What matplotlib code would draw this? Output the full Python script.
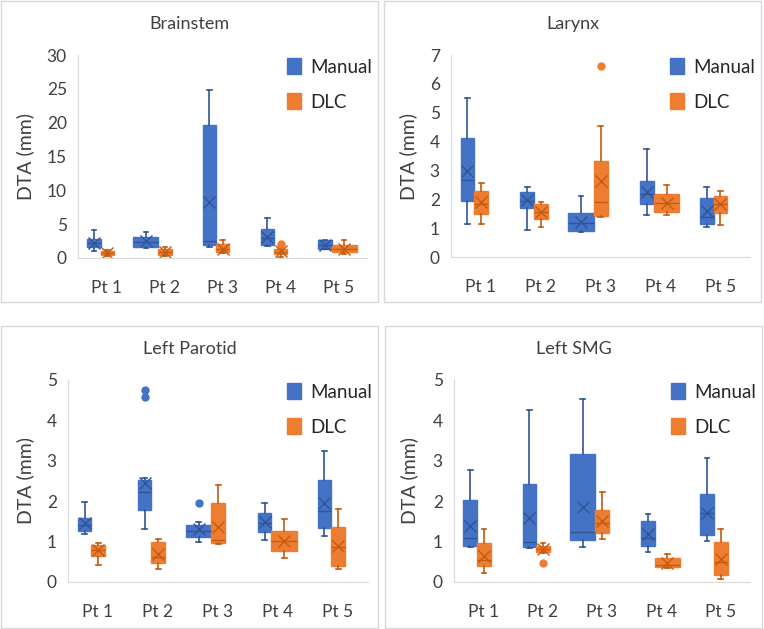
"""Box plots of DTA for manual vs DLC contours, four structures."""

import matplotlib.pyplot as plt
from matplotlib.patches import Patch, Rectangle

plt.rcParams["font.family"] = ["Lato", "DejaVu Sans"]

patients = ["Pt 1", "Pt 2", "Pt 3", "Pt 4", "Pt 5"]

# per patient: (whisker low, q1, median, q3, whisker high)
brain_manual = [(1.0, 1.63, 2.2, 2.87, 4.2), (1.5, 1.63, 2.4, 3.1, 3.85),
                (1.63, 1.88, 2.5, 19.7, 24.9), (1.73, 1.98, 3.0, 4.25, 5.97),
                (1.3, 1.38, 1.9, 2.6, 2.7)]
brain_dlc = [(0.3, 0.4, 0.7, 1.0, 1.2), (0.35, 0.5, 0.9, 1.4, 1.6),
             (0.8, 0.9, 1.3, 2.0, 2.7), (0.1, 0.6, 0.9, 1.3, 1.5),
             (0.65, 0.9, 1.4, 1.98, 2.6)]
brain_manual_mean = [2.2, 2.5, 8.3, 3.1, 1.9]
brain_dlc_mean = [0.7, 0.9, 1.4, 1.0, 1.4]
brain_manual_out = [[], [], [], [], []]
brain_dlc_out = [[], [], [], [2.0], []]

larynx_manual = [(1.14, 1.94, 2.66, 4.11, 5.5), (0.95, 1.7, 1.95, 2.26, 2.41),
                 (0.85, 0.89, 1.18, 1.51, 2.12), (1.45, 1.83, 2.2, 2.63, 3.74),
                 (1.04, 1.16, 1.39, 2.03, 2.43)]
larynx_dlc = [(1.14, 1.48, 1.85, 2.29, 2.57), (1.04, 1.3, 1.55, 1.82, 1.89),
              (1.38, 1.41, 1.91, 3.33, 4.54), (1.45, 1.56, 1.88, 2.2, 2.51),
              (1.1, 1.53, 1.85, 2.12, 2.29)]
larynx_manual_mean = [2.99, 1.97, 1.2, 2.26, 1.6]
larynx_dlc_mean = [1.91, 1.55, 2.64, 1.88, 1.85]
larynx_manual_out = [[], [], [], [], []]
larynx_dlc_out = [[], [], [6.63], [], []]

parotid_manual = [(1.2, 1.26, 1.4, 1.59, 1.97), (1.32, 1.78, 2.22, 2.52, 2.58),
                  (0.98, 1.12, 1.26, 1.42, 1.49), (1.03, 1.23, 1.45, 1.72, 1.95),
                  (1.14, 1.34, 1.75, 2.52, 3.25)]
parotid_dlc = [(0.41, 0.64, 0.78, 0.91, 0.97), (0.31, 0.46, 0.62, 0.98, 1.06),
               (0.95, 0.96, 1.05, 1.95, 2.4), (0.6, 0.77, 1.02, 1.27, 1.57),
               (0.33, 0.39, 0.87, 1.35, 1.8)]
parotid_manual_mean = [1.45, 2.45, 1.3, 1.49, 1.95]
parotid_dlc_mean = [0.78, 0.7, 1.37, 1.02, 0.9]
parotid_manual_out = [[], [4.57, 4.76], [1.95], [], []]
parotid_dlc_out = [[], [], [], [], []]

smg_manual = [(0.87, 0.89, 1.08, 2.03, 2.77), (0.83, 0.87, 0.99, 2.42, 4.26),
              (0.87, 1.03, 1.24, 3.16, 4.53), (0.74, 0.89, 1.1, 1.51, 1.68),
              (1.01, 1.16, 1.72, 2.17, 3.06)]
smg_dlc = [(0.23, 0.39, 0.54, 0.97, 1.32), (0.72, 0.74, 0.82, 0.89, 0.97),
           (1.06, 1.22, 1.45, 1.78, 2.22), (0.35, 0.36, 0.43, 0.6, 0.7),
           (0.08, 0.17, 0.5, 0.98, 1.3)]
smg_manual_mean = [1.39, 1.59, 1.86, 1.18, 1.72]
smg_dlc_mean = [0.64, 0.82, 1.51, 0.48, 0.57]
smg_manual_out = [[], [], [], [], []]
smg_dlc_out = [[], [0.47], [], [], []]

BLUE, BLUE_DK = "#4472C4", "#2F5597"
ORANGE, ORANGE_DK = "#ED7D31", "#C55A11"
GRID = "#d9d9d9"
TXT = "#404040"

W, H = 764, 629
fig = plt.figure(figsize=(W / 100, H / 100), dpi=100)


def stats(five, means, outs):
    out = []
    for (lo, q1, med, q3, hi), m, fl in zip(five, means, outs):
        out.append(dict(whislo=lo, q1=q1, med=med, q3=q3, whishi=hi,
                        mean=m, fliers=fl))
    return out


def draw(ax, st, pos, widths, face, dark):
    ax.bxp(st, positions=pos, widths=widths, capwidths=0.08,
           patch_artist=True, showmeans=True, showfliers=True,
           boxprops=dict(facecolor=face, edgecolor=face, linewidth=1),
           medianprops=dict(color=dark, linewidth=1),
           whiskerprops=dict(color=dark, linewidth=1.2),
           capprops=dict(color=dark, linewidth=1.2),
           meanprops=dict(marker="x", markeredgecolor=dark, markersize=8,
                          markeredgewidth=1),
           flierprops=dict(marker="o", markerfacecolor=face,
                           markeredgecolor=face, markersize=5))


def panel(frame, box, title, ymax, step, man, dlc, wide_m, wide_d):
    fx0, fy0, fx1, fy1 = frame
    fig.add_artist(Rectangle((fx0 / W, 1 - fy1 / H), (fx1 - fx0) / W,
                             (fy1 - fy0) / H, transform=fig.transFigure,
                             fill=False, edgecolor=GRID, linewidth=1))
    x0, y0, x1, y1 = box
    ax = fig.add_axes([x0 / W, 1 - y1 / H, (x1 - x0) / W, (y1 - y0) / H])
    centers = [i + 1 - 0.11 for i in range(5)]
    wm = [0.43 if w else 0.23 for w in wide_m]
    wd = [0.43 if w else 0.23 for w in wide_d]
    draw(ax, man, [c - w / 2 for c, w in zip(centers, wm)], wm, BLUE, BLUE_DK)
    draw(ax, dlc, [c + w / 2 for c, w in zip(centers, wd)], wd, ORANGE, ORANGE_DK)
    ax.set_xlim(0.5, 5.5)
    ax.set_ylim(0, ymax)
    ax.set_yticks(range(0, ymax + 1, step))
    ax.set_xticks(range(1, 6))
    ax.set_xticklabels(patients)
    ax.tick_params(length=0, labelsize=12.5, colors=TXT)
    ax.tick_params(axis="y", pad=8)
    ax.tick_params(axis="x", pad=16)
    for s in ("top", "right"):
        ax.spines[s].set_visible(False)
    for s in ("left", "bottom"):
        ax.spines[s].set_color(GRID)
    fig.text((fx0 + fx1) / 2 / W, 1 - (fy0 + 23) / H, title, ha="center",
             va="center", fontsize=13, color=TXT)
    fig.text((fx0 + 24) / W, 1 - (y0 + y1) / 2 / H, "DTA (mm)", rotation=90,
             ha="center", va="center", fontsize=14, color=TXT)
    handles = [Patch(facecolor=BLUE, edgecolor=BLUE, label="Manual"),
               Patch(facecolor=ORANGE, edgecolor=ORANGE, label="DLC")]
    ax.legend(handles=handles, loc="upper left",
              bbox_to_anchor=((fx1 - 100 - x0) / (x1 - x0), 1.03),
              frameon=False, fontsize=13.5, labelspacing=0.95,
              handlelength=0.7, handleheight=0.9, handletextpad=0.5,
              borderpad=0, labelcolor="#262626")
    return ax


panel((1, 1, 378, 302), (78, 55, 367, 258), "Brainstem", 30, 5,
      stats(brain_manual, brain_manual_mean, brain_manual_out),
      stats(brain_dlc, brain_dlc_mean, brain_dlc_out),
      [0, 1, 0, 0, 0], [0, 0, 0, 0, 1])
panel((384, 1, 761, 302), (451, 55, 750, 257), "Larynx", 7, 1,
      stats(larynx_manual, larynx_manual_mean, larynx_manual_out),
      stats(larynx_dlc, larynx_dlc_mean, larynx_dlc_out),
      [0, 0, 1, 0, 0], [0, 0, 0, 1, 0])
panel((1, 326, 378, 628), (68, 380, 368, 582), "Left Parotid", 5, 1,
      stats(parotid_manual, parotid_manual_mean, parotid_manual_out),
      stats(parotid_dlc, parotid_dlc_mean, parotid_dlc_out),
      [0, 0, 1, 0, 0], [0, 0, 0, 1, 0])
panel((385, 326, 762, 628), (454, 380, 750, 582), "Left SMG", 5, 1,
      stats(smg_manual, smg_manual_mean, smg_manual_out),
      stats(smg_dlc, smg_dlc_mean, smg_dlc_out),
      [0, 0, 1, 0, 0], [0, 0, 0, 1, 0])

fig.savefig("out.png", dpi=100)
